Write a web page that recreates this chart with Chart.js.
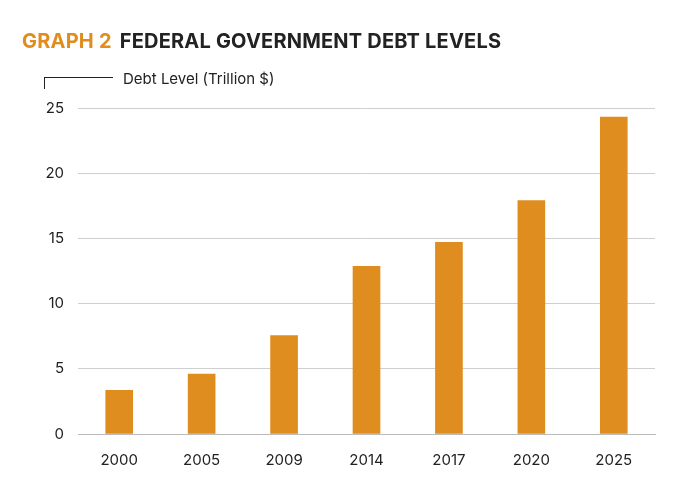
<!DOCTYPE html>
<html>
<head>
<meta charset="utf-8">
<script src="https://cdn.jsdelivr.net/npm/chart.js@4"></script>
<style>
  body { margin: 0; background: #fff; font-family: Inter, "Noto Sans", sans-serif; }
  #wrap { position: relative; width: 700px; height: 483px; }
  #title { position: absolute; left: 22px; top: 29px; font-size: 20px; font-weight: 700; color: #222; letter-spacing: 0.2px; }
  #title span { color: #e08d1f; margin-right: 8px; }
  #unit { position: absolute; left: 123px; top: 69px; font-size: 15px; color: #222; }
  #brk { position: absolute; left: 44px; top: 77px; width: 68px; height: 11px; border-top: 1px solid #222; border-left: 1px solid #222; }
  canvas { position: absolute; left: 0; top: 0; }
</style>
</head>
<body>
<div id="wrap">
  <canvas id="myChart" width="700" height="483"></canvas>
  <div id="title"><span>GRAPH 2</span>FEDERAL GOVERNMENT DEBT LEVELS</div>
  <div id="brk"></div>
  <div id="unit">Debt Level (Trillion $)</div>
</div>
<script>
// år og gæld i billioner dollar
const years = ["2000", "2005", "2009", "2014", "2017", "2020", "2025"];
const debt = [3.35, 4.6, 7.55, 12.85, 14.7, 17.9, 24.3];
const yTicks = [0, 5, 10, 15, 20, 25];

const chart = new Chart(document.getElementById("myChart").getContext("2d"), {
    type: "bar",
    data: {
        labels: years,
        datasets: [{
            label: "Debt",
            data: debt,
            backgroundColor: "#e08d1f",
            barThickness: 27
        }]
    },
    options: {
        responsive: false,
        animation: false,
        layout: { padding: { left: 28, right: 45, top: 108, bottom: 5 } },
        plugins: { legend: { display: false }, tooltip: { enabled: false } },
        scales: {
            x: {
                grid: { display: false },
                border: { color: "#bbb" },
                ticks: { color: "#222", font: { family: "Inter", size: 15 }, padding: 9 }
            },
            y: {
                min: 0, max: 25,
                afterFit: (s) => { s.width = 50 },
                afterBuildTicks: (s) => { s.ticks = yTicks.map(v => ({ value: v })) },
                grid: { color: "#cfcfcf", drawTicks: false },
                border: { display: false },
                ticks: { color: "#222", font: { family: "Inter", size: 15 }, padding: 14 }
            }
        }
    }
});
</script>
</body>
</html>
